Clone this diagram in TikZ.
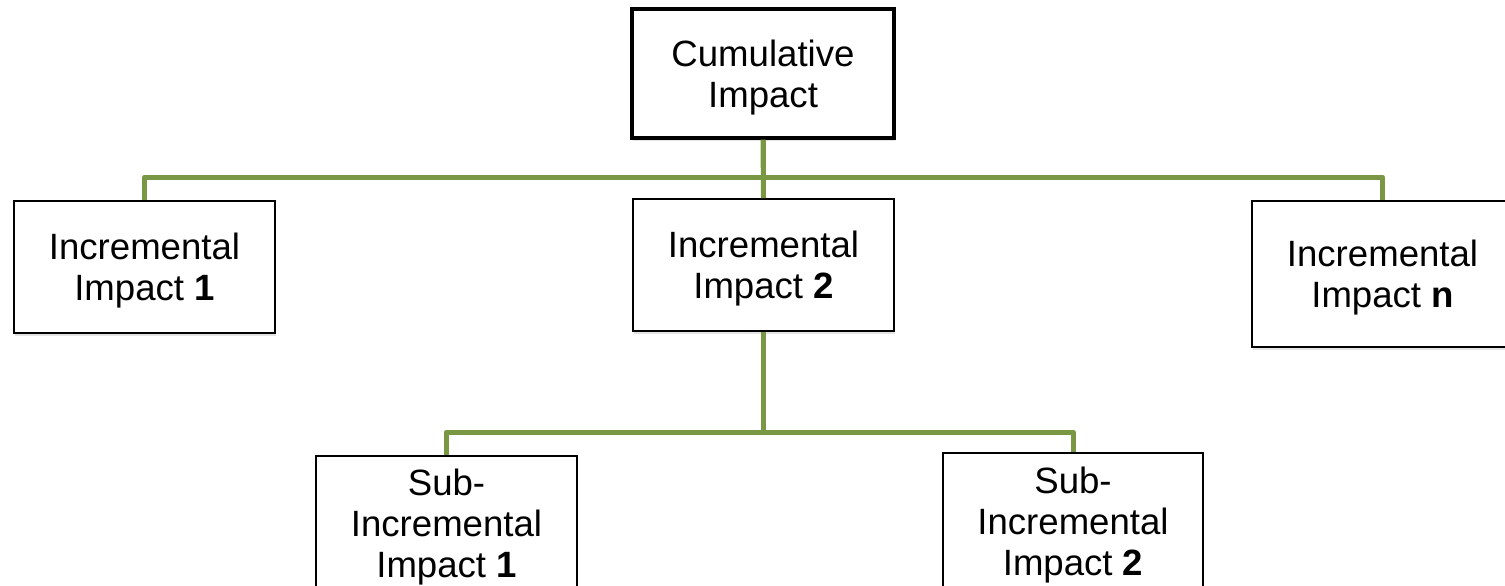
\documentclass[tikz,border=0pt]{standalone}
\usepackage{fontspec}
\setmainfont{Liberation Sans}
\usetikzlibrary{shadows}
\definecolor{linkgreen}{RGB}{122,151,68}
\begin{document}
\begin{tikzpicture}[x=0.5pt,y=-0.5pt,
  box/.style={draw=black, line width=0.8pt, fill=white, inner sep=0pt,
    drop shadow={opacity=0.22, shadow xshift=0.6pt, shadow yshift=-1.3pt}},
  txt/.style={align=center, inner sep=0pt, yshift=-1.8pt,
    font=\fontsize{18.3}{20.5}\selectfont},
  link/.style={draw=linkgreen, line width=2.5pt, line join=round}]
\useasboundingbox (0,0) rectangle (1505,585);
\clip (0,0) rectangle (1505,585);

% top level
\node[box, line width=1.6pt, minimum width=131pt, minimum height=64.5pt,
  label={[txt]center:{Cumulative\\Impact}}] (cum) at (763,73.5) {};

% incremental impacts
\node[box, minimum width=130.5pt, minimum height=66pt,
  label={[txt]center:{Incremental\\Impact \textbf{1}}}] (inc1) at (144.5,267) {};
\node[box, minimum width=130.5pt, minimum height=66pt,
  label={[txt]center:{Incremental\\Impact \textbf{2}}}] (inc2) at (763.5,265) {};
\node[box, minimum width=130.5pt, minimum height=73pt,
  label={[txt]center:{Incremental\\Impact \textbf{n}}}] (incn) at (1382.5,274) {};

% sub-incremental impacts
\node[box, minimum width=130.5pt, minimum height=67pt,
  label={[txt]center:{Sub-\\Incremental\\Impact \textbf{1}}}] (sub1) at (446.5,523) {};
\node[box, minimum width=130pt, minimum height=68pt,
  label={[txt]center:{Sub-\\Incremental\\Impact \textbf{2}}}] (sub2) at (1073,521) {};

% connectors
\coordinate (busA) at (763,177);
\coordinate (busB) at (764,432);
\draw[link] (cum.south) -- (cum.south |- busA) -| (inc1.north);
\draw[link] (cum.south) -- (inc2.north);
\draw[link] (cum.south) -- (cum.south |- busA) -| (incn.north);
\draw[link] (inc2.south) -- (inc2.south |- busB) -| (sub1.north);
\draw[link] (inc2.south) -- (inc2.south |- busB) -| (sub2.north);
\end{tikzpicture}
\end{document}
